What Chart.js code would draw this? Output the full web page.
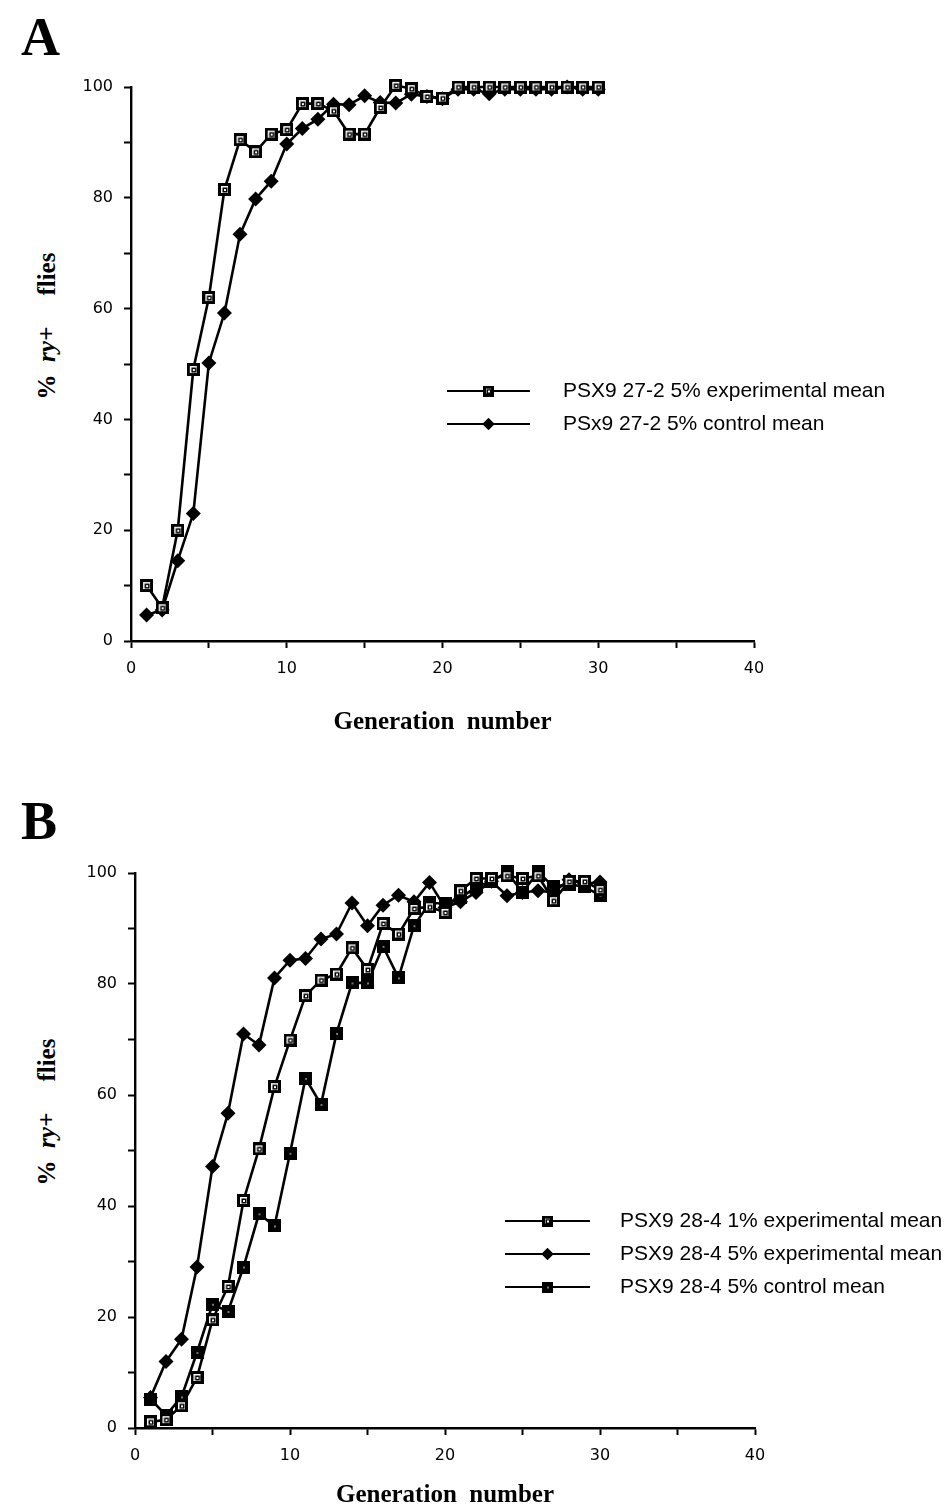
<!DOCTYPE html>
<html>
<head>
<meta charset="utf-8">
<script src="https://cdn.jsdelivr.net/npm/chart.js@4/dist/chart.umd.min.js"></script>
<style>
  html, body { margin:0; padding:0; background:#fff; }
  body { width:945px; height:1506px; position:relative; overflow:hidden; }
  .cv { position:absolute; left:0; }
  .panel { position:absolute; font-family:"Liberation Serif","Times New Roman",serif; font-weight:bold; font-size:54px; color:#000; line-height:1; }
  .ytitle { position:absolute; font-family:"Liberation Serif","Times New Roman",serif; font-weight:bold; font-size:25px; color:#000; white-space:nowrap; transform:translate(-50%,-50%) rotate(-90deg); line-height:1; }
  .ytitle i { font-style:italic; }
</style>
</head>
<body>
<div class="panel" style="left:21px;top:10px;">A</div>
<div class="panel" style="left:21px;top:794px;">B</div>
<div class="ytitle" style="left:46px;top:326px;">%&nbsp; <i>ry+</i>&nbsp;&nbsp;&nbsp;&nbsp; flies</div>
<div class="ytitle" style="left:46px;top:1112px;">%&nbsp; <i>ry+</i>&nbsp;&nbsp;&nbsp;&nbsp; flies</div>
<canvas id="cA" class="cv" style="top:0px;" width="945" height="750"></canvas>
<canvas id="cB" class="cv" style="top:760px;" width="945" height="746"></canvas>
<script>
// ---- data ----
const generations = [1,2,3,4,5,6,7,8,9,10,11,12,13,14,15,16,17,18,19,20,21,22,23,24,25,26,27,28,29,30];
const xTickLabels = [0,10,20,30,40];
const yTickLabels = [0,20,40,60,80,100];

const labelA1 = "PSX9 27-2 5% experimental mean";
const labelA2 = "PSx9 27-2 5% control mean";
const seriesA1 = [10,6,20,49,62,81.5,90.5,88.3,91.5,92.3,97,97,95.7,91.5,91.5,96.3,100.3,99.7,98.3,98,100,100,100,100,100,100,100,100,100,100];
const seriesA2 = [4.7,5.6,14.5,23,50.2,59.2,73.4,79.8,83,89.7,92.5,94.2,96.9,96.8,98.4,97.2,97.1,98.7,98.3,97.9,99.6,99.6,98.8,99.6,99.6,99.6,99.6,100,99.6,99.6];

const labelB1 = "PSX9 28-4 1% experimental mean";
const labelB2 = "PSX9 28-4 5% experimental mean";
const labelB3 = "PSX9 28-4 5% control mean";
const seriesB1 = [1.1,1.5,4,9.1,19.5,25.5,41,50.3,61.5,69.9,77.9,80.7,81.8,86.5,82.6,90.9,89,93.6,93.9,92.9,96.8,99,99,99.5,99,99.5,95,98.5,98.5,97];
const seriesB2 = [5.5,12,16,29,47.1,56.7,71,69,81.1,84.3,84.6,88.1,89,94.6,90.5,94.2,96,94.8,98.3,93.8,94.8,96.5,98.5,95.9,96.5,96.8,96.5,98.8,98,98.4];
const seriesB3 = [5.2,2.3,5.6,13.6,22.3,21,29,38.6,36.4,49.5,63,58.3,71.1,80.2,80.2,86.8,81.1,90.5,94.6,94.5,95.5,97.5,98.5,100.2,96.5,100.2,97.5,98,97.5,96];

// ---- marker images ----
function makeOpenSquare(n){
  const c = document.createElement('canvas'); c.width = n; c.height = n;
  const g = c.getContext('2d');
  g.fillStyle = '#000'; g.fillRect(0,0,n,n);
  g.fillStyle = '#fff'; g.fillRect(3,3,n-6,n-6);
  const m = Math.round(n/2);
  g.fillStyle = '#000'; g.fillRect(m-2.5,m-2.5,5,5);
  g.fillStyle = '#fff'; g.fillRect(m-1,m-1,2,2);
  return c;
}
function makeFilledSquare(n){
  const c = document.createElement('canvas'); c.width = n; c.height = n;
  const g = c.getContext('2d');
  g.fillStyle = '#000'; g.fillRect(0,0,n,n);
  const m = Math.round(n/2);
  g.fillStyle = '#777'; g.fillRect(m-1,m-1,2,2);
  return c;
}
const openSq = makeOpenSquare(13);
const filledSq = makeFilledSquare(13);
const openSqLeg = makeOpenSquare(11);
const filledSqLeg = makeFilledSquare(11);

function pts(ys){ return generations.map((g,i)=>({x:g, y:ys[i]})); }

function ds(label, ys, style){
  const base = { label, data: pts(ys), borderColor:'#000', borderWidth:2.6, backgroundColor:'#000',
    pointBorderColor:'#000', pointBackgroundColor:'#000', tension:0, fill:false, clip:false };
  if (style === 'diamond') Object.assign(base, { pointStyle:'rectRot', pointRadius:7.5, pointBorderWidth:0 });
  else Object.assign(base, { pointStyle: style === 'open' ? openSq : filledSq, pointRadius:6.5 });
  base.legendStyle = style;
  return base;
}

// custom legend drawn inside the plot
const inLegend = {
  id:'inLegend',
  afterDraw(chart, args, opts){
    const ctx = chart.ctx;
    ctx.save();
    chart.data.datasets.forEach((d,i)=>{
      const y = opts.y + i*opts.gap;
      ctx.strokeStyle = '#000'; ctx.lineWidth = 2;
      ctx.beginPath(); ctx.moveTo(opts.x1, y); ctx.lineTo(opts.x2, y); ctx.stroke();
      const mx = (opts.x1+opts.x2)/2;
      ctx.fillStyle = '#000';
      if (d.legendStyle === 'diamond') {
        Chart.helpers.drawPoint(ctx, {pointStyle:'rectRot', radius:6, borderWidth:0}, mx, y);
        ctx.fill();
      } else {
        const img = d.legendStyle === 'open' ? openSqLeg : filledSqLeg;
        Chart.helpers.drawPoint(ctx, {pointStyle:img, radius:5.5, borderWidth:0}, mx, y);
      }
      ctx.fillStyle = '#000';
      ctx.font = opts.font;
      ctx.textBaseline = 'middle';
      ctx.fillText(d.label, opts.tx, y);
    });
    ctx.restore();
  }
};

function makeOptions(pad, yW, xH, titlePad, legendOpts){
  return {
    responsive:false, animation:false,
    layout:{ padding: pad },
    plugins:{ legend:{display:false}, tooltip:{enabled:false}, inLegend: legendOpts },
    scales:{
      x:{ type:'linear', min:0, max:40,
        afterFit(s){ s.height = xH; },
        ticks:{ stepSize:5, color:'#000', padding:11, maxRotation:0, autoSkip:false,
          font:{ family:'"DejaVu Sans", sans-serif', size:16 },
          callback:v => xTickLabels.includes(v) ? String(v) : '' },
        grid:{ drawOnChartArea:false, drawTicks:true, tickLength:7, tickColor:'#000', tickWidth:2 },
        border:{ display:true, color:'#000', width:2.4 },
        title:{ display:true, text:'Generation  number', color:'#000', padding:{top:0,bottom:titlePad},
          font:{ family:'"Liberation Serif", "Times New Roman", serif', size:25, weight:'bold', lineHeight:1 } }
      },
      y:{ type:'linear', min:0, max:100,
        afterFit(s){ s.width = yW; },
        ticks:{ stepSize:10, color:'#000', padding:11,
          font:{ family:'"DejaVu Sans", sans-serif', size:16 },
          callback:v => yTickLabels.includes(v) ? String(v) : '' },
        grid:{ drawOnChartArea:false, drawTicks:true, tickLength:7, tickColor:'#000', tickWidth:2 },
        border:{ display:true, color:'#000', width:2.4 }
      }
    }
  };
}

new Chart(document.getElementById('cA'), {
  type:'line',
  data:{ datasets:[ ds(labelA1, seriesA1, 'open'), ds(labelA2, seriesA2, 'diamond') ] },
  options: makeOptions({top:87,left:71,right:191,bottom:9}, 60, 100, 5.5,
    {x1:447, x2:530, y:391, gap:33, tx:563, font:'21px "Liberation Sans", Arial, sans-serif'}),
  plugins:[inLegend]
});

new Chart(document.getElementById('cB'), {
  type:'line',
  data:{ datasets:[ ds(labelB1, seriesB1, 'open'), ds(labelB2, seriesB2, 'diamond'), ds(labelB3, seriesB3, 'filled') ] },
  options: makeOptions({top:113,left:75,right:190,bottom:0}, 60, 78, -2.5,
    {x1:505, x2:590, y:461, gap:33, tx:620, font:'21px "Liberation Sans", Arial, sans-serif'}),
  plugins:[inLegend]
});
</script>
</body>
</html>
